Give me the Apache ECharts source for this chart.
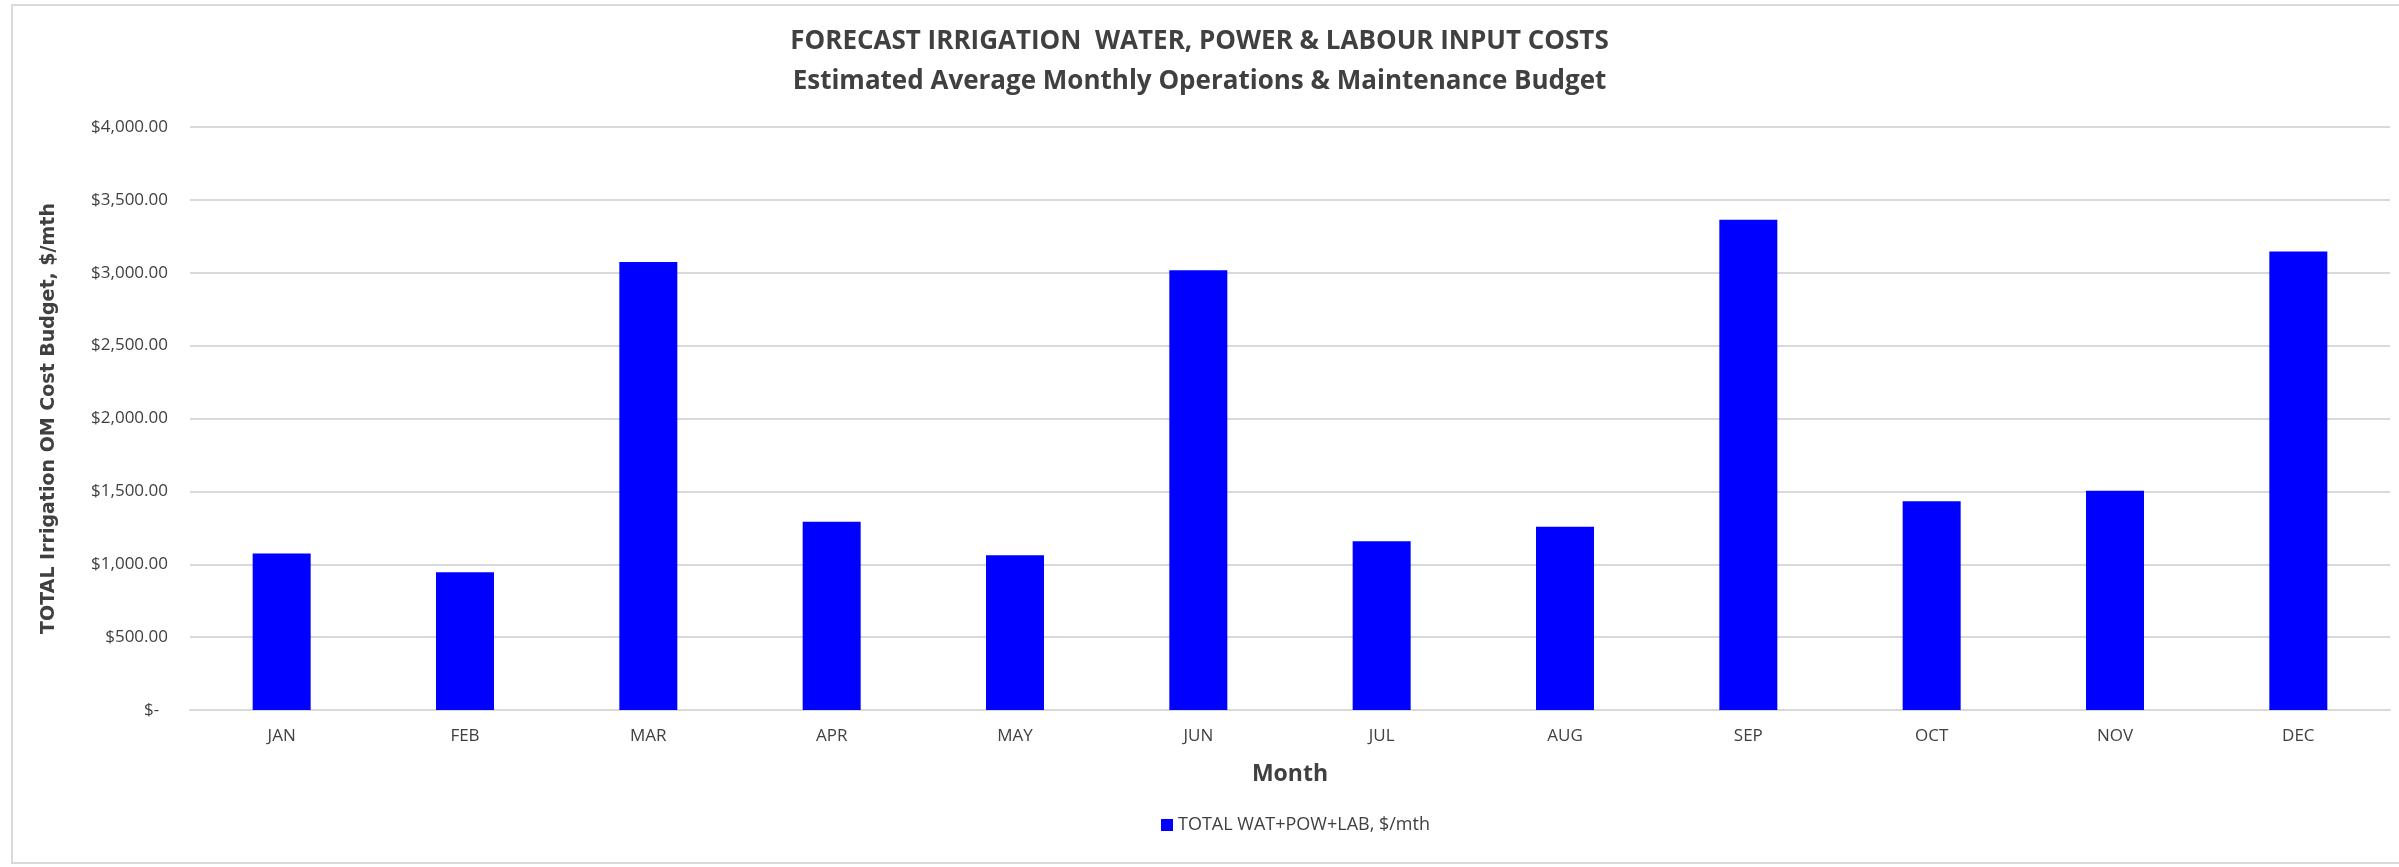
<!DOCTYPE html>
<html>
<head>
<meta charset="utf-8">
<script src="https://cdn.jsdelivr.net/npm/echarts@6/dist/echarts.min.js"></script>
<style>
  html, body { margin: 0; padding: 0; background: #fff; }
  #main { width: 2399px; height: 867px; }
</style>
</head>
<body>
<div id="main"></div>
<script>
// months on the x axis
const months = ['JAN', 'FEB', 'MAR', 'APR', 'MAY', 'JUN', 'JUL', 'AUG', 'SEP', 'OCT', 'NOV', 'DEC'];
// total water + power + labour cost, $/mth
const totalCost = [1073, 945, 3073, 1292, 1062, 3018, 1157, 1258, 3363, 1432, 1505, 3146];

const seriesName = 'TOTAL WAT+POW+LAB, $/mth';
const textColor = '#404040';
const labelFont = '"Open Sans", sans-serif';

function money(v) {
  if (v === 0) return '$-  ';
  return '$' + v.toLocaleString('en-US', { minimumFractionDigits: 2, maximumFractionDigits: 2 });
}

const myChart = echarts.init(document.getElementById('main'));

const option = {
  backgroundColor: '#fff',
  animation: false,
  graphic: [
    {
      type: 'rect',
      shape: { x: 12, y: 5, width: 2390, height: 858 },
      style: { fill: 'none', stroke: '#d9d9d9', lineWidth: 2 },
      silent: true
    }
  ],
  title: [
    {
      text: 'FORECAST IRRIGATION  WATER, POWER & LABOUR INPUT COSTS',
      left: 'center',
      top: 24,
      textStyle: { fontFamily: labelFont, fontSize: 26, fontWeight: 'bold', color: textColor }
    },
    {
      text: 'Estimated Average Monthly Operations & Maintenance Budget',
      left: 'center',
      top: 64,
      textStyle: { fontFamily: labelFont, fontSize: 26, fontWeight: 'bold', color: textColor }
    }
  ],
  legend: {
    data: [seriesName],
    bottom: 28,
    left: 1156,
    icon: 'rect',
    itemWidth: 12,
    itemHeight: 12,
    itemGap: 6,
    textStyle: { fontFamily: labelFont, fontSize: 18, color: textColor }
  },
  grid: { left: 190, right: 9, top: 127, bottom: 157 },
  xAxis: {
    type: 'category',
    data: months,
    name: 'Month',
    nameLocation: 'middle',
    nameGap: 53,
    nameTextStyle: { fontFamily: labelFont, fontSize: 23, fontWeight: 'bold', color: textColor },
    axisLine: { lineStyle: { color: '#d9d9d9', width: 2 } },
    axisTick: { show: false },
    axisLabel: { fontFamily: labelFont, fontSize: 17, color: textColor, margin: 18 }
  },
  yAxis: {
    type: 'value',
    min: 0,
    max: 4000,
    interval: 500,
    name: 'TOTAL Irrigation OM Cost Budget, $/mth',
    nameLocation: 'middle',
    nameRotate: 90,
    nameGap: 131,
    nameTextStyle: { fontFamily: '"DejaVu Sans", sans-serif', fontSize: 19, fontWeight: 'bold', color: textColor },
    axisLine: { show: false },
    axisTick: { show: false },
    splitLine: { lineStyle: { color: '#d9d9d9', width: 2 } },
    axisLabel: { fontFamily: labelFont, fontSize: 17, color: textColor, margin: 22, formatter: money }
  },
  series: [
    {
      name: seriesName,
      type: 'bar',
      data: totalCost,
      barWidth: 58,
      itemStyle: { color: '#0000ff' }
    }
  ]
};

myChart.setOption(option);
</script>
</body>
</html>
